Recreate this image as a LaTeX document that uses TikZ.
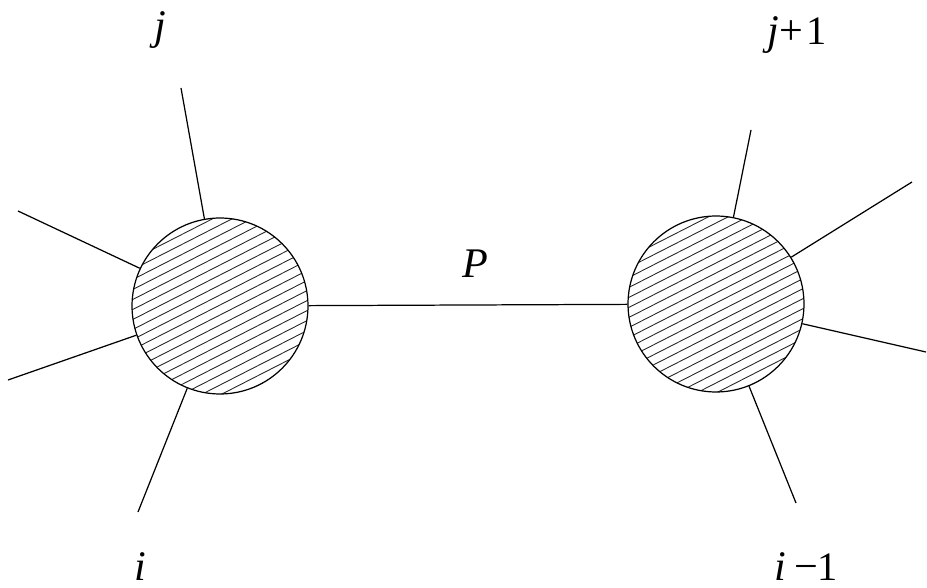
\documentclass[tikz,border=0pt]{standalone}
\usepackage{fontspec}
\setmainfont{Liberation Serif}
\usepackage{tikz}

\newcommand{\lettr}[1]{{\fontsize{24}{27}\selectfont\itshape #1}}
\newcommand{\oper}[1]{{\fontsize{24}{27}\selectfont #1}}
\newcommand{\numr}[1]{{\fontsize{23}{26}\selectfont #1}}

\begin{document}
\begin{tikzpicture}[
  x=0.02cm, y=-0.02cm,
  hatch/.style={line width=0.5pt, black!85},
  blob/.style={
      circle,
      draw=black,
      line width=0.7pt,
      minimum size=3.52cm,
      inner sep=0pt,
      path picture={
        \foreach \k in {-60,-50,...,160}
          \draw[hatch] ([shift={(-100,\k)}]path picture bounding box.center) -- ++(200,-102);
      }
  },
  leg/.style={line width=0.7pt},
  lbl/.style={inner sep=0pt, anchor=base, text depth=0pt}
]
\useasboundingbox (0,0) rectangle (927,588);

\node[blob] (left)  at (220,306) {};
\node[blob] (right) at (716,304) {};

% free ends of the legs
\coordinate (lt) at (181,88);
\coordinate (lul) at (18,211);
\coordinate (lll) at (8,380);
\coordinate (lb) at (138,512);
\coordinate (rt) at (751,130);
\coordinate (rur) at (912,182);
\coordinate (rr) at (926,352);
\coordinate (rb) at (796,503);

\node[lbl] (j)    at (160,40)  {\lettr{j}};
\node[lbl, anchor=base west] (jp) at (767,45) {\lettr{j}\oper{+}\hspace{0.08cm}\numr{1}};
\node[lbl] (prop) at (475,277) {\lettr{P}};
\node[lbl] (i)    at (140,580) {\lettr{i}};
\node[lbl, anchor=base west] (im) at (774,580) {\lettr{i}\hspace{0.16cm}\oper{−}\numr{1}};

\draw[leg] (left) -- (right);
\draw[leg] (left) -- (lt);
\draw[leg] (left) -- (lul);
\draw[leg] (left) -- (lll);
\draw[leg] (left) -- (lb);
\draw[leg] (right) -- (rt);
\draw[leg] (right) -- (rur);
\draw[leg] (right) -- (rr);
\draw[leg] (right) -- (rb);

\end{tikzpicture}
\end{document}
